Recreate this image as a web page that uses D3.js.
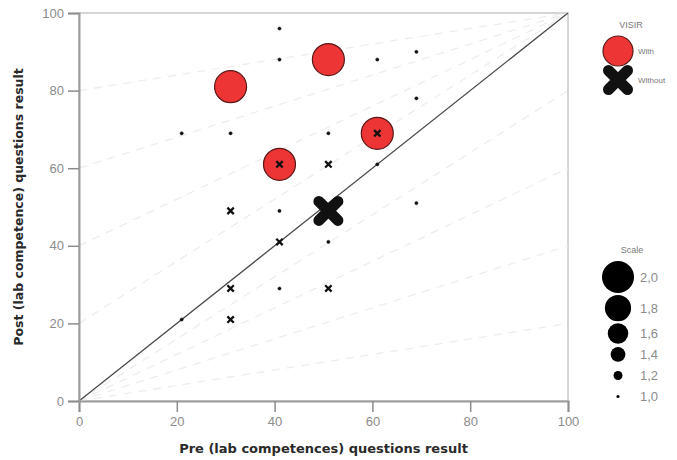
<!DOCTYPE html>
<html>
<head>
<meta charset="utf-8">
<script src="https://cdn.jsdelivr.net/npm/d3@7"></script>
<style>
  html, body { margin: 0; padding: 0; background: #fff; }
  svg { display: block; }
</style>
</head>
<body>
<div id="chart"></div>
<script>
// ---- data ----
const xTicks = [0, 20, 40, 60, 80, 100];
const yTicks = [0, 20, 40, 60, 80, 100];

// "With" VISIR (circles)
const withPre   = [31, 51, 61, 41, 41, 41, 61, 69, 69, 21, 31, 51, 41, 51, 61, 69, 41, 21];
const withPost  = [81, 88, 69, 61, 96, 88, 88, 90, 78, 69, 69, 69, 49, 41, 61, 51, 29, 21];
const withScale = [2.0, 2.0, 2.0, 2.0, 1, 1, 1, 1, 1, 1, 1, 1, 1, 1, 1, 1, 1, 1];

// "Without" VISIR (crosses)
const withoutPre   = [51, 31, 41, 51, 31, 31, 51, 41, 61];
const withoutPost  = [49, 49, 41, 61, 29, 21, 29, 61, 69];
const withoutScale = [2.0, 1, 1, 1, 1, 1, 1, 1, 1];

// gain reference lines
const gainLevels = [0.2, 0.4, 0.6, 0.8];

// legends
const groupLabels = ["With", "Without"];
const scaleValues = [2.0, 1.8, 1.6, 1.4, 1.2, 1.0];
const scaleLabels = ["2,0", "1,8", "1,6", "1,4", "1,2", "1,0"];

// ---- drawing ----
const W = 677, H = 460;
const svg = d3.select("#chart").append("svg").attr("width", W).attr("height", H);

const x = d3.scaleLinear().domain([0, 100]).range([79, 568]);
const y = d3.scaleLinear().domain([0, 100]).range([401, 13]);
const r = d3.scaleLinear().domain([1, 2]).range([1.6, 16]);
const xh = d3.scaleLinear().domain([1, 2]).range([3.2, 9.5]);   // cross half-arm
const xw = d3.scaleLinear().domain([1, 2]).range([2.3, 11]);    // cross thickness

const font = "'Liberation Sans', Arial, sans-serif";
const tickColor = "#8c8c8c";

// frame
svg.append("rect")
  .attr("x", x(0)).attr("y", y(100))
  .attr("width", x(100) - x(0)).attr("height", y(0) - y(100))
  .attr("fill", "none").attr("stroke", "#c8c8c8").attr("stroke-width", 1.5);

// gain reference lines
const line = d3.line().x(d => x(d[0])).y(d => y(d[1]));
const gLines = svg.append("g");
gainLevels.forEach(g => {
  gLines.append("path").attr("d", line([[0, 100 * g], [100, 100]]))
    .attr("fill", "none").attr("stroke", "#ededed").attr("stroke-width", 1.3)
    .attr("stroke-dasharray", "8,7");
  gLines.append("path").attr("d", line([[0, 0], [100, 100 * (1 - g)]]))
    .attr("fill", "none").attr("stroke", "#ededed").attr("stroke-width", 1.3)
    .attr("stroke-dasharray", "8,7");
});

// diagonal
svg.append("path").attr("d", line([[0, 0], [100, 100]]))
  .attr("fill", "none").attr("stroke", "#4a4a4a").attr("stroke-width", 1.3);

// axes
const xAxis = svg.append("g").attr("transform", `translate(0,${y(0)})`)
  .call(d3.axisBottom(x).tickValues(xTicks).tickSize(11).tickPadding(5));
const yAxis = svg.append("g").attr("transform", `translate(${x(0)},0)`)
  .call(d3.axisLeft(y).tickValues(yTicks).tickSize(11).tickPadding(4));
[xAxis, yAxis].forEach(a => {
  a.select(".domain").attr("stroke", "#9c9c9c").attr("stroke-width", 2);
  a.selectAll(".tick line").attr("stroke", "#8c8c8c").attr("stroke-width", 1.5);
  a.selectAll(".tick text").attr("fill", tickColor).attr("font-size", 13).attr("font-family", font);
});

// axis titles
svg.append("text").attr("x", (x(0) + x(100)) / 2).attr("y", 453)
  .attr("text-anchor", "middle").attr("font-family", "'DejaVu Sans', Verdana, sans-serif")
  .attr("font-size", 13).attr("font-weight", "bold").attr("fill", "#2a2a2a")
  .text("Pre (lab competences) questions result");
svg.append("text")
  .attr("transform", `translate(23,${(y(0) + y(100)) / 2}) rotate(-90)`)
  .attr("text-anchor", "middle").attr("font-family", "'DejaVu Sans', Verdana, sans-serif")
  .attr("font-size", 12.5).attr("font-weight", "bold").attr("fill", "#2a2a2a")
  .text("Post (lab competence) questions result");

// markers
const circleFill = "#ee3535", circleStroke = "#5a1818";
const withData = withPre.map((p, i) => ({ pre: p, post: withPost[i], s: withScale[i] }));
const withoutData = withoutPre.map((p, i) => ({ pre: p, post: withoutPost[i], s: withoutScale[i] }));

svg.append("g").selectAll("circle").data(withData).join("circle")
  .attr("cx", d => x(d.pre)).attr("cy", d => y(d.post)).attr("r", d => r(d.s))
  .attr("fill", d => d.s > 1 ? circleFill : "#111")
  .attr("stroke", d => d.s > 1 ? circleStroke : "#111").attr("stroke-width", d => d.s > 1 ? 1.2 : 0.5);

function crossPath(h) {
  return `M${-h},${-h}L${h},${h}M${-h},${h}L${h},${-h}`;
}
svg.append("g").selectAll("path").data(withoutData).join("path")
  .attr("transform", d => `translate(${x(d.pre)},${y(d.post)})`)
  .attr("d", d => crossPath(xh(d.s)))
  .attr("fill", "none").attr("stroke", "#111")
  .attr("stroke-width", d => xw(d.s))
  .attr("stroke-linecap", d => d.s > 1 ? "round" : "butt");

// VISIR legend
const lg = svg.append("g").attr("font-family", font);
lg.append("text").attr("x", 631).attr("y", 28).attr("text-anchor", "middle")
  .attr("font-size", 9).attr("fill", "#7a7a7a").text("VISIR");
lg.append("circle").attr("cx", 618).attr("cy", 51).attr("r", 15)
  .attr("fill", circleFill).attr("stroke", circleStroke).attr("stroke-width", 1.2);
lg.append("text").attr("x", 638).attr("y", 54).attr("font-size", 8)
  .attr("fill", "#7a7a7a").text(groupLabels[0]);
lg.append("path").attr("transform", "translate(618,80)").attr("d", crossPath(xh(2)))
  .attr("fill", "none").attr("stroke", "#111").attr("stroke-width", xw(2)).attr("stroke-linecap", "round");
lg.append("text").attr("x", 638).attr("y", 83).attr("font-size", 8)
  .attr("fill", "#7a7a7a").text(groupLabels[1]);

// Scale legend
const sg = svg.append("g").attr("font-family", font);
sg.append("text").attr("x", 632).attr("y", 253).attr("text-anchor", "middle")
  .attr("font-size", 9).attr("fill", "#7a7a7a").text("Scale");
let cy = 277;
scaleValues.forEach((v, i) => {
  if (i > 0) cy += Math.max(21, r(scaleValues[i - 1]) + r(v) + 2);
  sg.append("circle").attr("cx", 618).attr("cy", cy).attr("r", r(v)).attr("fill", "#000");
  sg.append("text").attr("x", 640).attr("y", cy + 4.5).attr("font-size", 13)
    .attr("fill", tickColor).text(scaleLabels[i]);
});
</script>
</body>
</html>
